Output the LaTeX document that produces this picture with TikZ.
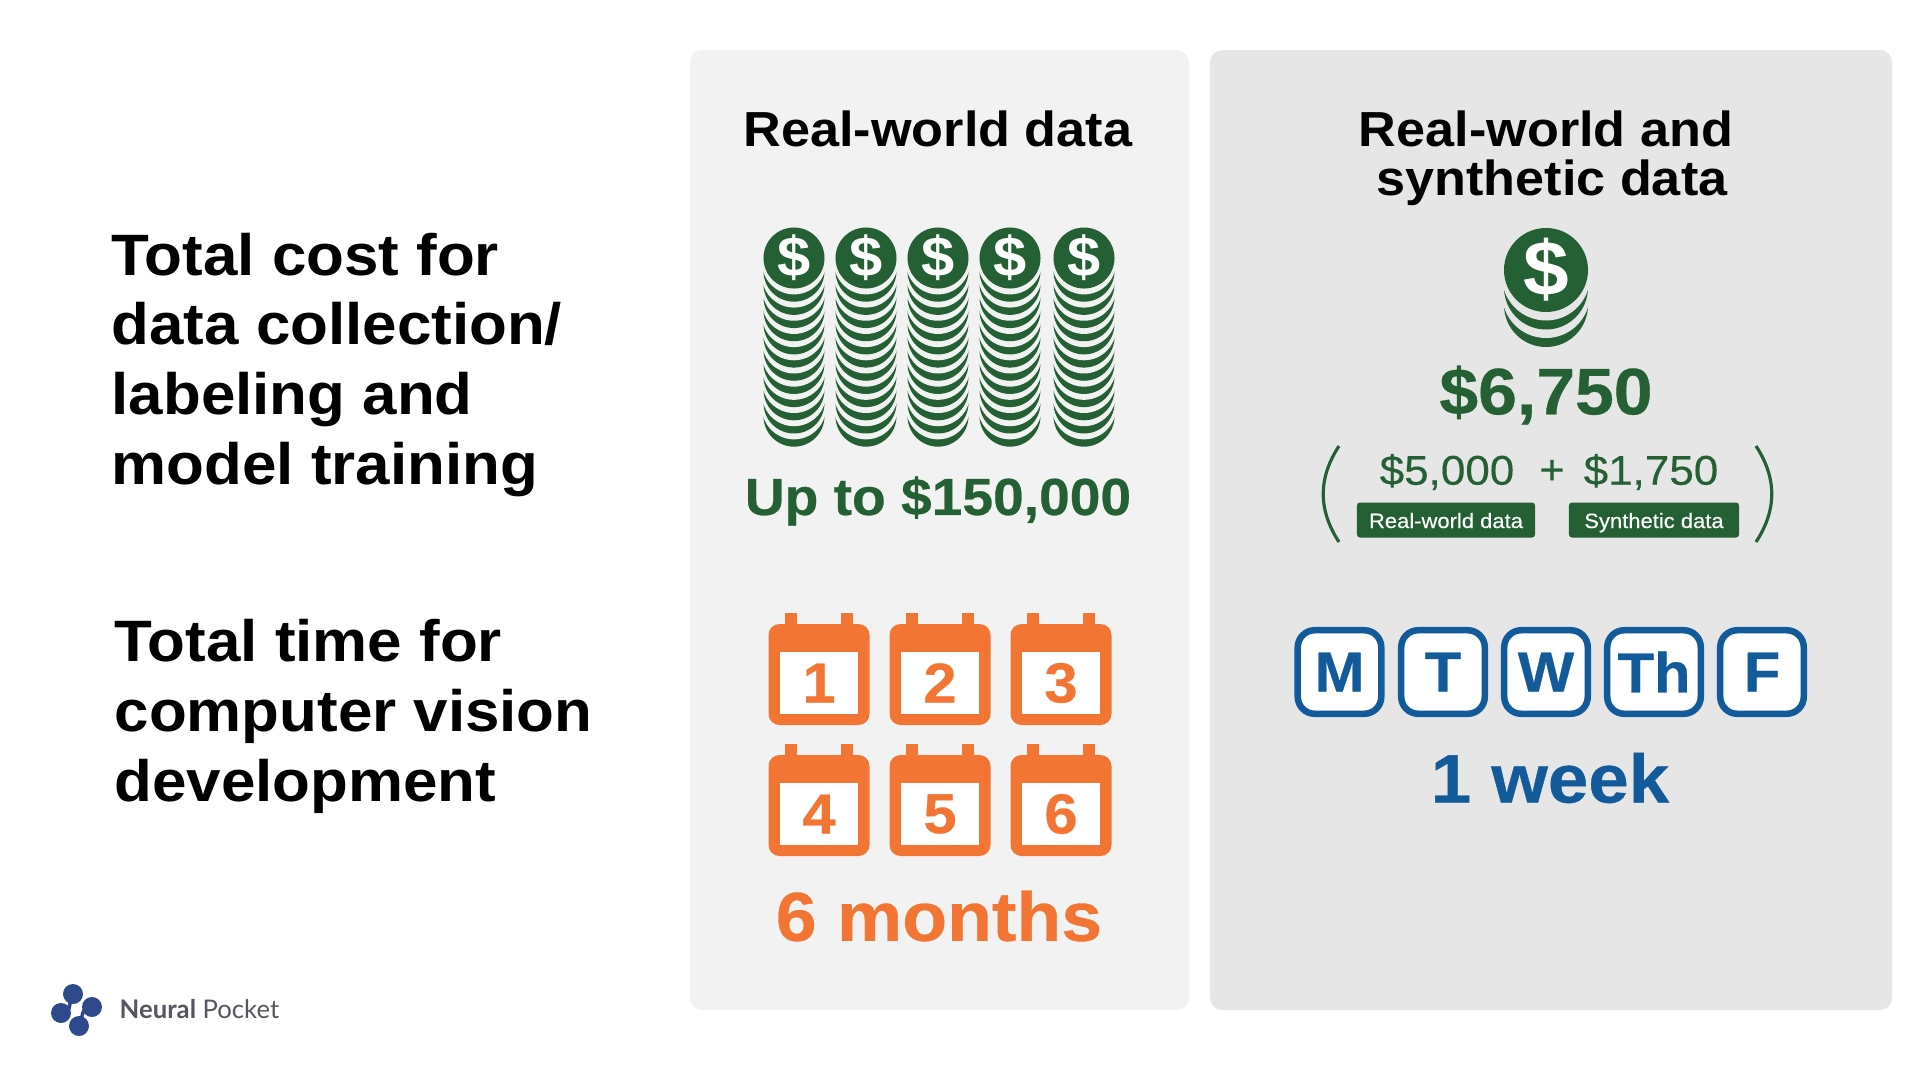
\documentclass[tikz,border=0pt]{standalone}
\usepackage{fontspec}
\setmainfont{Liberation Sans}[FakeStretch=1.06]
\newfontfamily\logofont{Lato}
\definecolor{panelA}{HTML}{F2F2F2}
\definecolor{panelB}{HTML}{E6E6E6}
\definecolor{coingreen}{HTML}{256035}
\definecolor{calorange}{HTML}{F37533}
\definecolor{dayblue}{HTML}{135A9A}
\definecolor{logoblue}{HTML}{2F4A8C}
\definecolor{logogray}{HTML}{55565E}
\newcommand{\fsize}[2]{\fontsize{#1}{#2}\selectfont}
\newcommand{\heavy}{\bfseries\addfontfeature{FakeBold=0.5}}
\newcommand{\medweight}{\addfontfeature{FakeBold=0.3}}
\begin{document}
\begin{tikzpicture}
        [x=0.01cm, y=-0.01cm,
        rowlabel/.style={anchor=west, align=left, inner sep=0pt, font=\fsize{16.6}{19.9}\bfseries},
        heading/.style={font=\fsize{14}{14}\bfseries},
        coin/.style={circle, fill=coingreen, text=white, inner sep=0pt, minimum size=0.61cm, font=\fsize{16}{16}\bfseries},
        bigcoin/.style={coin, minimum size=0.84cm, font=\fsize{22}{22}\bfseries},
        money/.style={text=coingreen, font=\fsize{14.8}{15}\heavy},
        partcost/.style={text=coingreen, font=\fsize{11.8}{12}\medweight},
        badge/.style={fill=coingreen, text=white, rounded corners=0.03cm, inner sep=0pt, minimum height=0.35cm, text height=0.19cm, text depth=0.03cm, font=\fsize{5.9}{6}\medweight},
        paren/.style={coingreen, line width=0.9pt},
        calnum/.style={fill=white, text=calorange, inner sep=0pt, minimum width=0.78cm, minimum height=0.62cm, font=\fsize{16}{16}\heavy},
        day/.style={draw=dayblue, fill=white, text=dayblue, line width=1.85pt, rounded corners=0.17cm, inner sep=0pt, minimum height=0.835cm, font=\fsize{16}{16}\heavy}]

        \useasboundingbox (0,0) rectangle (1920,1081);
        \fill[white] (0,0) rectangle (1920,1081);

        % panels
        \fill[panelA, rounded corners=0.12cm] (690,50) rectangle (1189,1010);
        \fill[panelB, rounded corners=0.12cm] (1210,50) rectangle (1892,1010);

        % row labels
        \node[rowlabel] (costlabel) at (111,365) {Total cost for\\data collection/\\labeling and\\model training};
        \node[rowlabel] (timelabel) at (114,716) {Total time for\\computer vision\\development};

        % headings
        \node[heading] (realhead) at (938,129) {Real-world data};
        \node[heading, align=center] (bothhead) at (1546,158) {Real-world and\\\hspace*{0.12cm}synthetic data};

        % coin stacks
        \foreach \x/\n in {794/a,866/b,938/c,1010/d,1084/e} {
            \foreach \k in {12,...,1} {
                \fill[coingreen] ({\x},{258+\k*13.18}) circle (30.5);
                \fill[panelA] ({\x},{258+\k*13.18-8.8}) circle (32);
            }
            \node[coin] (coin\n) at (\x,258) {\$};
        }
        \foreach \k in {2,1} {
            \fill[coingreen] (1546,{270+\k*17.5}) circle (42);
            \fill[panelB] (1546,{270+\k*17.5-11}) circle (44);
        }
        \node[bigcoin] (bigcoin) at (1546,270) {\$};

        % cost figures
        \node[money] (total) at (938,501) {Up to \$150,000};
        \node[money, font=\fsize{18.7}{18.7}\heavy] (synthtotal) at (1546,395) {\$6,750};
        \node[partcost] (realcost) at (1447,472) {\$5,000};
        \node[partcost] (plus) at (1552,472) {+};
        \node[partcost] (synthcost) at (1651,472) {\$1,750};
        \node[badge, minimum width=1.78cm] (realbadge) at (1446,520) {Real-world data};
        \node[badge, minimum width=1.70cm] (synthbadge) at (1654,520) {Synthetic data};
        \draw[paren] (1339,446) .. controls (1318,478) and (1318,510) .. (1339,542);
        \draw[paren] (1756,446) .. controls (1777,478) and (1777,510) .. (1756,542);

        % calendars
        \foreach \cx/\cy/\num in {819/683/1,940/683/2,1061/683/3,819/814/4,940/814/5,1061/814/6} {
            \fill[calorange] ({\cx-34},{\cy-70}) rectangle ({\cx-22},{\cy-50});
            \fill[calorange] ({\cx+22},{\cy-70}) rectangle ({\cx+34},{\cy-50});
            \fill[calorange, rounded corners=0.11cm] ({\cx-50.5},{\cy-59}) rectangle ({\cx+50.5},{\cy+42});
            \node[calnum] (cal\num) at (\cx,\cy) {\num};
        }
        \node[text=calorange, font=\fsize{19.7}{20}\heavy] (months) at (939,916) {6 months};

        % weekdays
        \node[day, minimum width=0.835cm] (mon) at (1339.5,672) {M};
        \node[day, minimum width=0.835cm] (tue) at (1443,672) {T};
        \node[day, minimum width=0.835cm] (wed) at (1546,672) {W};
        \node[day, minimum width=0.935cm] (thu) at (1654,672) {Th};
        \node[day, minimum width=0.835cm] (fri) at (1762,672) {F};
        \node[text=dayblue, font=\fsize{19.5}{20}\heavy] (week) at (1550,778) {1 week};

        % logo
        \draw[logoblue, line width=1pt] (73,994) .. controls (68,1004) and (72,1013) .. (61,1013);
        \draw[logoblue, line width=1pt] (79,1026) .. controls (84,1016) and (80,1007) .. (92,1007);
        \fill[logoblue] (73,994) circle (10);
        \fill[logoblue] (61,1013) circle (10);
        \fill[logoblue] (92,1007) circle (10);
        \fill[logoblue] (79,1026) circle (10);
        \node[anchor=west, inner sep=0pt, text=logogray, font=\logofont\fsize{7.3}{8}] (logotext) at (119,1009) {\textbf{Neural} Pocket};
\end{tikzpicture}
\end{document}
